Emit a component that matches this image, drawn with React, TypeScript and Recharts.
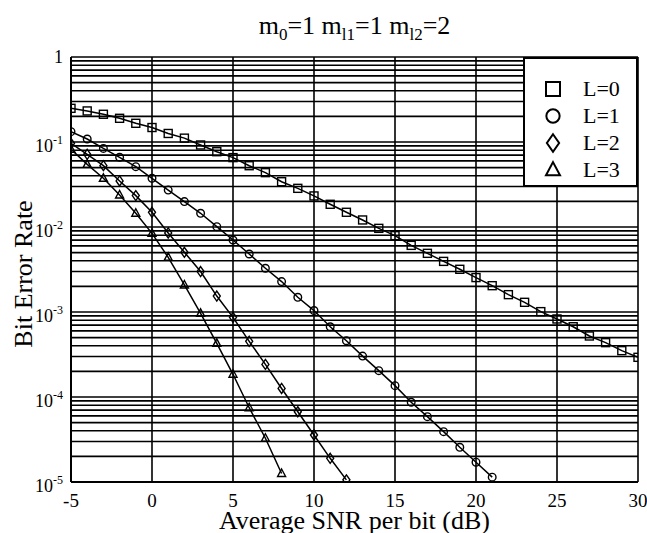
import { CartesianGrid, Legend, Line, LineChart, XAxis, YAxis } from "recharts";

// SNR per bit (dB), one marker per dB
const snr = [
  -5, -4, -3, -2, -1, 0, 1, 2, 3, 4, 5, 6, 7, 8, 9, 10, 11, 12, 13, 14, 15, 16, 17,
  18, 19, 20, 21, 22, 23, 24, 25, 26, 27, 28, 29, 30,
];

// bit error rate
const berL0 = [
  0.249, 0.232, 0.212, 0.19, 0.166, 0.148, 0.126, 0.111, 0.0923, 0.0769, 0.0655,
  0.0526, 0.0436, 0.0341, 0.0285, 0.0232, 0.0185, 0.0149, 0.0121, 0.00964, 0.00791,
  0.00608, 0.0049, 0.00394, 0.00318, 0.00254, 0.00204, 0.0016, 0.0013, 0.00101,
  0.000828, 0.000671, 0.000522, 0.000436, 0.000351, 0.000293,
];
const berL1 = [
  0.1324, 0.1084, 0.0841, 0.0661, 0.0513, 0.0374, 0.0272, 0.0199, 0.0145, 0.0101,
  0.00703, 0.00481, 0.00327, 0.00228, 0.00149, 0.00104, 0.000671, 0.000459, 0.000303,
  0.000204, 0.000136, 0.0000867, 0.0000587, 0.0000391, 0.0000256, 0.0000171, 0.0000114,
];
const berL2 = [
  0.0964, 0.0716, 0.0527, 0.0348, 0.0234, 0.0149, 0.00851, 0.00504, 0.00299, 0.00154,
  0.000865, 0.000452, 0.000242, 0.000126, 0.0000671, 0.0000357, 0.000019, 0.0000106,
];
const berL3 = [
  0.082, 0.0546, 0.0374, 0.0238, 0.0145, 0.00841, 0.0044, 0.00208, 0.000964, 0.000428,
  0.000185, 0.0000748, 0.0000327, 0.0000126,
];

const seriesNames = ["L=0", "L=1", "L=2", "L=3"];
const xTicks = [-5, 0, 5, 10, 15, 20, 25, 30];
const decades = [1e-5, 1e-4, 1e-3, 1e-2, 1e-1, 1];
const minorSteps = [1, 2, 3, 4, 5, 6, 7, 8, 9];
const yTicks = decades.flatMap((d) => (d === 1 ? [1] : minorSteps.map((m) => m * d)));

const FONT = "'Liberation Serif', 'Times New Roman', serif";

const toPoints = (ber: number[]) => ber.map((v, i) => ({ snr: snr[i], ber: v }));

type Shape = "square" | "circle" | "diamond" | "triangle";
const shapes: Shape[] = ["square", "circle", "diamond", "triangle"];

function Marker({ shape, cx, cy, s = 1, sw = 1.4 }: { shape: Shape; cx: number; cy: number; s?: number; sw?: number }) {
  const common = { fill: "none", stroke: "#000", strokeWidth: sw };
  if (shape === "square") return <rect x={cx - 4 * s} y={cy - 4 * s} width={8 * s} height={8 * s} {...common} />;
  if (shape === "circle") return <circle cx={cx} cy={cy} r={3.8 * s} {...common} />;
  if (shape === "diamond")
    return (
      <polygon
        points={`${cx},${cy - 5 * s} ${cx + 3.5 * s},${cy} ${cx},${cy + 5 * s} ${cx - 3.5 * s},${cy}`}
        {...common}
      />
    );
  return (
    <polygon points={`${cx},${cy - 4.5 * s} ${cx + 4 * s},${cy + 3 * s} ${cx - 4 * s},${cy + 3 * s}`} {...common} />
  );
}

const makeDot = (shape: Shape) => (props: any) => {
  const { cx, cy, index } = props;
  if (cx == null || cy == null) return <g key={`${shape}-${index}`} />;
  return (
    <g key={`${shape}-${index}`}>
      <Marker shape={shape} cx={cx} cy={cy} />
    </g>
  );
};

function YTick(props: any) {
  const { x, y, payload } = props;
  const v = payload.value as number;
  const e = Math.log10(v);
  const r = Math.round(e);
  if (Math.abs(e - r) > 1e-6) return null;
  if (r === 0)
    return (
      <text x={x} y={y + 6} textAnchor="end" fontFamily={FONT} fontSize={18} fill="#000">
        1
      </text>
    );
  return (
    <text x={x} y={y + 10} textAnchor="end" fontFamily={FONT} fontSize={18} fill="#000">
      <tspan>10</tspan>
      <tspan fontSize={12} dy={-8}>
        {String(r)}
      </tspan>
    </text>
  );
}

function XTick(props: any) {
  const { x, y, payload } = props;
  return (
    <text x={x} y={y + 23} textAnchor="middle" fontFamily={FONT} fontSize={19} fill="#000">
      {String(payload.value)}
    </text>
  );
}

function XTitle(props: any) {
  const vb = props.viewBox || { x: 71, y: 482, width: 567, height: 30 };
  return (
    <text x={vb.x + vb.width / 2} y={vb.y + 47} textAnchor="middle" fontFamily={FONT} fontSize={26} fill="#000">
      Average SNR per bit (dB)
    </text>
  );
}

function YTitle(props: any) {
  const vb = props.viewBox || { x: 11, y: 57, width: 60, height: 425 };
  const cx = vb.x + 21;
  const cy = vb.y + vb.height / 2 + 4.5;
  return (
    <text
      x={cx}
      y={cy}
      transform={`rotate(-90 ${cx} ${cy})`}
      textAnchor="middle"
      fontFamily={FONT}
      fontSize={26}
      fill="#000"
    >
      Bit Error Rate
    </text>
  );
}

function LegendBox() {
  const rows = [32, 59, 86, 113];
  return (
    <div
      style={{
        position: "relative",
        width: 115,
        height: 130,
        boxSizing: "border-box",
        border: "2px solid #000",
        background: "#fff",
        fontFamily: FONT,
      }}
    >
      {seriesNames.map((name, i) => (
        <div key={name}>
          <svg
            width={24}
            height={24}
            style={{ position: "absolute", left: 16, top: rows[i] - 2 - 12 }}
          >
            <Marker shape={shapes[i]} cx={12} cy={12} s={1.75} sw={2} />
          </svg>
          <div
            style={{
              position: "absolute",
              left: 58,
              top: rows[i] - 2 - 12,
              height: 24,
              lineHeight: "24px",
              fontSize: 22,
              color: "#000",
            }}
          >
            {name}
          </div>
        </div>
      ))}
    </div>
  );
}

export default function App() {
  const data = [berL0, berL1, berL2, berL3].map(toPoints);
  return (
    <div style={{ position: "relative", width: 647, height: 533, background: "#fff" }}>
      <style>{`body{margin:0}`}</style>
      <div
        style={{
          position: "absolute",
          left: 71,
          width: 567,
          top: 13,
          lineHeight: "26px",
          textAlign: "center",
          fontFamily: FONT,
          fontSize: 26,
          color: "#000",
          zIndex: 2,
        }}
      >
        m<sub style={{ fontSize: 17 }}>0</sub>=1 m<sub style={{ fontSize: 17 }}>l1</sub>=1 m
        <sub style={{ fontSize: 17 }}>l2</sub>=2
      </div>
      <LineChart width={647} height={533} margin={{ top: 57, right: 9, bottom: 21, left: 11 }}>
        <CartesianGrid stroke="#000" strokeWidth={1.6} />
        <XAxis
          type="number"
          dataKey="snr"
          domain={[-5, 30]}
          ticks={xTicks}
          interval={0}
          allowDataOverflow
          height={30}
          tickLine={false}
          tickSize={0}
          axisLine={{ stroke: "#000", strokeWidth: 2 }}
          tick={<XTick />}
          label={<XTitle />}
        />
        <YAxis
          type="number"
          scale="log"
          domain={[1e-5, 1]}
          ticks={yTicks}
          interval={0}
          allowDataOverflow
          width={60}
          tickLine={false}
          tickSize={0}
          tickMargin={8}
          axisLine={{ stroke: "#000", strokeWidth: 2 }}
          tick={<YTick />}
          label={<YTitle />}
        />
        <Legend
          verticalAlign="middle"
          align="center"
          layout="horizontal"
          content={() => <LegendBox />}
          wrapperStyle={{ top: 57, left: 523, width: 115, height: 130 }}
        />
        {data.map((pts, i) => (
          <Line
            key={seriesNames[i]}
            name={seriesNames[i]}
            data={pts}
            dataKey="ber"
            type="linear"
            stroke="#000"
            strokeWidth={1.5}
            dot={makeDot(shapes[i])}
            activeDot={false}
            isAnimationActive={false}
          />
        ))}
      </LineChart>
    </div>
  );
}
